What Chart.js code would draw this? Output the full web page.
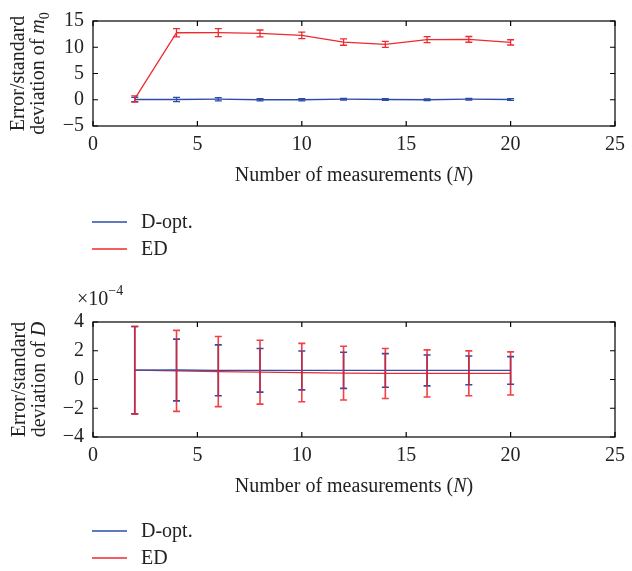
<!DOCTYPE html>
<html><head><meta charset="utf-8">
<script src="https://cdn.jsdelivr.net/npm/chart.js@4"></script>
<style>
body{margin:0;background:#fff;width:632px;height:571px;overflow:hidden;position:relative}
canvas{position:absolute;left:0}
</style></head><body>
<canvas id="c1" width="632" height="280" style="top:0"></canvas>
<canvas id="c2" width="632" height="291" style="top:280px"></canvas>
<script>
// ---- data ----
const N = [2, 4, 6, 8, 10, 12, 14, 16, 18, 20];
const seriesNames = ['D-opt.', 'ED'];
// top panel: m0
const m0Dopt    = [0.05, 0.05, 0.1, 0.0, 0.0, 0.1, 0.05, 0.0, 0.1, 0.05];
const m0DoptErr = [0.4, 0.4, 0.3, 0.2, 0.2, 0.15, 0.15, 0.15, 0.15, 0.15];
const m0ED      = [0.15, 12.76, 12.78, 12.64, 12.26, 10.98, 10.55, 11.45, 11.5, 10.93];
const m0EDErr   = [0.6, 0.78, 0.75, 0.65, 0.62, 0.6, 0.57, 0.57, 0.55, 0.5];
const m0Ticks = [-5, 0, 5, 10, 15];
// bottom panel: D (units of 1e-4)
const dDopt    = [0.65, 0.66, 0.64, 0.64, 0.63, 0.64, 0.63, 0.63, 0.63, 0.63];
const dDoptErr = [3.04, 2.15, 1.77, 1.52, 1.35, 1.26, 1.17, 1.07, 1.0, 0.96];
const dED      = [0.65, 0.6, 0.55, 0.51, 0.48, 0.44, 0.42, 0.42, 0.43, 0.42];
const dEDErr   = [3.04, 2.82, 2.44, 2.22, 2.03, 1.87, 1.74, 1.64, 1.56, 1.5];
const dTicks = [-4, -2, 0, 2, 4];
const xTicks = [0, 5, 10, 15, 20, 25];

const BLUE = '#2d4caa', RED = '#ee2a2e';
const SERIF = '"Liberation Serif", "DejaVu Serif", serif';
const FS = 20;

function pts(ys){ return N.map((x,i)=>({x, y: ys[i]})); }

function drawRich(ctx, segs, x, y, align){
  const widths = segs.map(s=>{ ctx.font = font(s); return ctx.measureText(s.t).width; });
  const total = widths.reduce((a,b)=>a+b,0);
  let cx = align==='center' ? x - total/2 : x;
  segs.forEach((s,i)=>{ ctx.font = font(s); ctx.fillText(s.t, cx, y + (s.sub?5:0) + (s.sup?-10:0)); cx += widths[i]; });
}
function font(s){ const sz = (s.sub||s.sup) ? 14 : FS; return (s.it?'italic ':'') + sz + 'px ' + SERIF; }

const deco = {
  id: 'deco',
  afterDatasetsDraw(chart){
    const ctx = chart.ctx, ys = chart.scales.y;
    chart.data.datasets.forEach((ds, di)=>{
      const meta = chart.getDatasetMeta(di);
      ctx.save();
      ctx.strokeStyle = ds.barColor || ds.borderColor; ctx.lineWidth = ds.barWidth || 1.3;
      ds.data.forEach((p, i)=>{
        const px = meta.data[i].x;
        const y1 = ys.getPixelForValue(p.y + ds.errors[i]);
        const y2 = ys.getPixelForValue(p.y - ds.errors[i]);
        ctx.beginPath();
        ctx.moveTo(px, y1); ctx.lineTo(px, y2);
        ctx.moveTo(px-3.5, y1); ctx.lineTo(px+3.5, y1);
        ctx.moveTo(px-3.5, y2); ctx.lineTo(px+3.5, y2);
        ctx.stroke();
      });
      ctx.restore();
    });
  },
  afterDraw(chart, args, o){
    const ctx = chart.ctx, a = chart.chartArea, xs = chart.scales.x, ys = chart.scales.y;
    ctx.save();
    ctx.strokeStyle = '#000'; ctx.lineWidth = 1.2;
    ctx.strokeRect(a.left, a.top, a.right - a.left, a.bottom - a.top);
    ctx.beginPath();
    xs.ticks.forEach(t=>{ const px = xs.getPixelForValue(t.value);
      ctx.moveTo(px, a.bottom); ctx.lineTo(px, a.bottom-5); ctx.moveTo(px, a.top); ctx.lineTo(px, a.top+5); });
    ys.ticks.forEach(t=>{ const py = ys.getPixelForValue(t.value);
      ctx.moveTo(a.left, py); ctx.lineTo(a.left+5, py); ctx.moveTo(a.right, py); ctx.lineTo(a.right-5, py); });
    ctx.stroke();
    ctx.fillStyle = '#222'; ctx.textBaseline = 'alphabetic';
    // x title
    drawRich(ctx, [{t:'Number of measurements ('},{t:'N',it:true},{t:')'}], (a.left+a.right)/2, a.bottom + o.xTitleOff, 'center');
    // y title (rotated)
    const cy = (a.top + a.bottom)/2;
    ctx.save(); ctx.translate(o.y1, cy); ctx.rotate(-Math.PI/2);
    drawRich(ctx, [{t:'Error/standard'}], 0, 0, 'center'); ctx.restore();
    ctx.save(); ctx.translate(o.y2, cy); ctx.rotate(-Math.PI/2);
    drawRich(ctx, o.ylab, 0, 0, 'center'); ctx.restore();
    if (o.exp) drawRich(ctx, [{t:'×10'},{t:'−4',sup:true}], o.exp[0], o.exp[1], 'left');
    // legend
    chart.data.datasets.forEach((ds, i)=>{
      const ly = a.bottom + o.legOff + i*27;
      ctx.strokeStyle = ds.borderColor; ctx.lineWidth = 1.3;
      ctx.beginPath(); ctx.moveTo(92, ly); ctx.lineTo(127, ly); ctx.stroke();
      ctx.textBaseline = 'middle'; ctx.font = FS + 'px ' + SERIF;
      ctx.fillText(ds.label, 141, ly + 1);
    });
    ctx.restore();
  }
};

function makeChart(id, d1, e1, d2, e2, yTicks, target, deco_opts){
  const ch = new Chart(document.getElementById(id), {
    type: 'line',
    data: { datasets: [
      { label: seriesNames[0], data: pts(d1), errors: e1, borderColor: BLUE, borderWidth: 1.3, pointRadius: 0, barColor: deco_opts.blueBar || BLUE, barWidth: deco_opts.bw },
      { label: seriesNames[1], data: pts(d2), errors: e2, borderColor: RED, borderWidth: 1.3, pointRadius: 0, barColor: deco_opts.redBar || RED, barWidth: deco_opts.bw }
    ]},
    options: {
      responsive: false, animation: false, events: [],
      layout: { padding: { left: 0, right: 9, top: target.top, bottom: 20 } },
      plugins: { legend: { display: false }, tooltip: { enabled: false }, deco: deco_opts },
      scales: {
        x: { type: 'linear', min: 0, max: 25,
             afterBuildTicks: s => { s.ticks = xTicks.map(v=>({value:v})); },
             grid: { display: false, drawTicks: false }, border: { display: false },
             ticks: { autoSkip: false, maxRotation: 0, padding: 7, color: '#222', font: { family: SERIF, size: FS } } },
        y: { type: 'linear', min: yTicks[0], max: yTicks[yTicks.length-1],
             afterBuildTicks: s => { s.ticks = yTicks.map(v=>({value:v})); },
             afterFit: s => { s.width = 93; },
             grid: { display: false, drawTicks: false }, border: { display: false },
             ticks: { autoSkip: false, padding: 9, color: '#222', font: { family: SERIF, size: FS },
                      callback: v => String(v).replace('-', '−') } }
      }
    },
    plugins: [deco]
  });
  for (let k=0;k<4;k++){
    const a = ch.chartArea, p = ch.options.layout.padding;
    p.left += target.left - a.left; p.top += target.top - a.top;
    p.right += a.right - target.right; p.bottom += a.bottom - target.bottom;
    ch.update('none');
  }
  return ch;
}

makeChart('c1', m0Dopt, m0DoptErr, m0ED, m0EDErr, m0Ticks,
  {left:93, right:623, top:10, bottom:126},
  { xTitleOff: 55, y1: 24, y2: 44, legOff: 96,
    ylab: [{t:'deviation of '},{t:'m',it:true},{t:'0',sub:true}] });
makeChart('c2', dDopt, dDoptErr, dED, dEDErr, dTicks,
  {left:93, right:623, top:42, bottom:157},
  { xTitleOff: 55, y1: 25, y2: 45, legOff: 94, exp: [77, 25],
    redBar: 'rgba(238,30,40,0.85)', bw: 1.6,
    ylab: [{t:'deviation of '},{t:'D',it:true}] });
</script>
</body></html>
